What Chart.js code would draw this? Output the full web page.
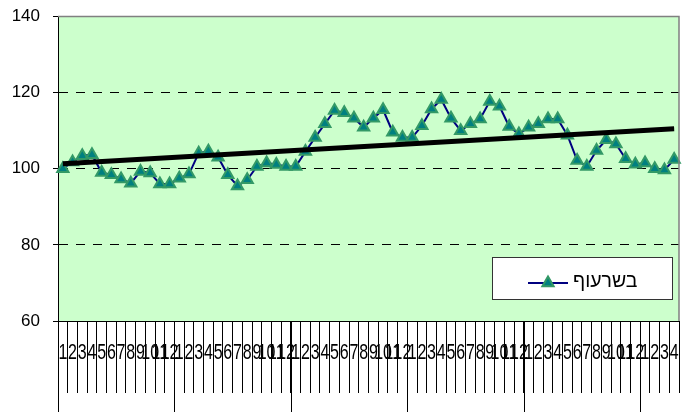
<!DOCTYPE html>
<html>
<head>
<meta charset="utf-8">
<script src="https://cdn.jsdelivr.net/npm/chart.js@4/dist/chart.umd.min.js"></script>
<style>
  html, body { margin: 0; padding: 0; background: #ffffff; }
  canvas { display: block; }
</style>
</head>
<body>
<canvas id="c" width="689" height="412"></canvas>
<script>
// ---- data ----
const categories = [
  '1','2','3','4','5','6','7','8','9','10','11','12',
  '1','2','3','4','5','6','7','8','9','10','11','12',
  '1','2','3','4','5','6','7','8','9','10','11','12',
  '1','2','3','4','5','6','7','8','9','10','11','12',
  '1','2','3','4','5','6','7','8','9','10','11','12',
  '1','2','3','4'
];
const seriesName = 'בשרעוף';
const seriesValues = [
  100.0, 101.8, 103.4, 103.7, 99.0, 98.4, 97.3, 96.2, 99.3, 98.9, 96.0, 96.0,
  97.5, 98.6, 104.1, 104.6, 103.0, 98.4, 95.5, 97.1, 100.6, 101.5, 101.1, 100.6,
  100.6, 104.5, 108.2, 111.8, 115.3, 114.7, 113.3, 110.9, 113.3, 115.5, 109.6, 108.2,
  108.2, 111.3, 115.7, 118.2, 113.3, 110.0, 111.8, 113.1, 117.7, 116.4, 111.1, 109.1,
  110.9, 111.8, 113.1, 113.1, 108.8, 102.2, 100.6, 104.8, 107.6, 106.5, 102.6, 101.2,
  101.5, 100.0, 99.7, 102.4
];
const trendEnds = [101.3, 110.5];          // trend line value at first and last month
const yTicks = [60, 80, 100, 120, 140];
const yearStarts = [0, 12, 24, 36, 48, 60]; // category indices where a year group begins

// trend dataset built from the two end values
const trendData = seriesValues.map((v, i) =>
  i === 0 ? trendEnds[0] : (i === seriesValues.length - 1 ? trendEnds[1] : null));

const FONT = '"Liberation Sans", Arial, sans-serif';

const decoPlugin = {
  id: 'deco',
  beforeDraw(chart) {
    const {ctx, chartArea: a} = chart;
    ctx.save();
    ctx.fillStyle = '#CCFFCC';
    ctx.fillRect(a.left, a.top, a.right - a.left, a.bottom - a.top);
    ctx.restore();
  },
  afterDraw(chart) {
    const {ctx, chartArea: a} = chart;
    const xs = chart.scales.x;
    const step = (xs.right - xs.left) / categories.length;
    ctx.save();
    // plot frame top & right (grey)
    ctx.strokeStyle = '#808080';
    ctx.lineWidth = 1.5;
    ctx.beginPath();
    ctx.moveTo(a.left, a.top);
    ctx.lineTo(a.right, a.top);
    ctx.lineTo(a.right, a.bottom);
    ctx.stroke();

    // year separators
    ctx.strokeStyle = '#000';
    ctx.lineWidth = 1;
    yearStarts.forEach(k => {
      const x = Math.round(xs.getPixelForValue(k) - step / 2) + 0.5;
      ctx.beginPath();
      ctx.moveTo(x, a.bottom);
      ctx.lineTo(x, 412);
      ctx.stroke();
    });

    // x labels (tall, narrow as in reference)
    ctx.fillStyle = '#000';
    ctx.font = '16px ' + FONT;
    ctx.textAlign = 'center';
    ctx.textBaseline = 'alphabetic';
    categories.forEach((lab, i) => {
      const x = xs.getPixelForValue(i);
      ctx.save();
      ctx.translate(x, 359);
      ctx.scale(1, 1.38);
      ctx.fillText(lab, 0, 0);
      ctx.restore();
    });

    // legend box
    const bx = 492.5, by = 257.5, bw = 180, bh = 42;
    ctx.fillStyle = '#ffffff';
    ctx.fillRect(bx, by, bw, bh);
    ctx.strokeStyle = '#333333';
    ctx.lineWidth = 1;
    ctx.strokeRect(bx, by, bw, bh);
    const ly = 283;
    ctx.strokeStyle = '#000080';
    ctx.lineWidth = 2;
    ctx.beginPath();
    ctx.moveTo(528, ly);
    ctx.lineTo(568, ly);
    ctx.stroke();
    ctx.fillStyle = '#008080';
    ctx.strokeStyle = '#339966';
    ctx.lineWidth = 2;
    Chart.helpers.drawPoint(ctx, {pointStyle: 'triangle', radius: 6.5, borderWidth: 2, rotation: 0}, 548, ly);
    ctx.fillStyle = '#000';
    ctx.font = '19.5px ' + FONT;
    ctx.textAlign = 'left';
    ctx.textBaseline = 'middle';
    ctx.fillText(seriesName, 573, ly - 1);
    ctx.restore();
  }
};

new Chart(document.getElementById('c'), {
  type: 'line',
  data: {
    labels: categories,
    datasets: [
      {
        label: 'trend',
        data: trendData,
        spanGaps: true,
        borderColor: '#000000',
        borderWidth: 5,
        pointRadius: 0,
        order: 0
      },
      {
        label: seriesName,
        data: seriesValues,
        borderColor: '#000080',
        borderWidth: 2,
        tension: 0,
        pointStyle: 'triangle',
        pointRadius: 6.5,
        pointHoverRadius: 6.5,
        pointBorderWidth: 2,
        pointBackgroundColor: '#008080',
        pointBorderColor: '#339966',
        order: 1
      }
    ]
  },
  options: {
    responsive: false,
    animation: false,
    devicePixelRatio: 1,
    layout: { padding: { top: 16.5, right: 10, left: 0, bottom: 0 } },
    plugins: { legend: { display: false }, tooltip: { enabled: false } },
    scales: {
      x: {
        type: 'category',
        offset: true,
        grid: {
          offset: true,
          drawOnChartArea: false,
          drawTicks: true,
          tickLength: 72,
          tickColor: '#000',
          tickWidth: 1
        },
        border: { display: true, color: '#000', width: 1 },
        ticks: { display: false, autoSkip: false, maxRotation: 0 },
        afterFit(s) { s.height = 91; s.paddingLeft = 0; s.paddingRight = 0; }
      },
      y: {
        min: yTicks[0],
        max: yTicks[yTicks.length - 1],
        afterBuildTicks(s) { s.ticks = yTicks.map(v => ({value: v})); },
        grid: {
          color: c => (c.tick && c.tick.value > yTicks[0] && c.tick.value < yTicks[yTicks.length - 1]) ? '#000' : 'rgba(0,0,0,0)',
          lineWidth: 1,
          tickLength: 5,
          tickColor: '#000',
          drawTicks: true
        },
        border: { display: true, color: '#000', width: 1, dash: [9, 8] },
        ticks: {
          color: '#000',
          padding: 13,
          font: { family: FONT, size: 17 }
        },
        afterFit(s) { s.width = 58; s.paddingTop = 0; s.paddingBottom = 0; }
      }
    }
  },
  plugins: [decoPlugin]
});
</script>
</body>
</html>
